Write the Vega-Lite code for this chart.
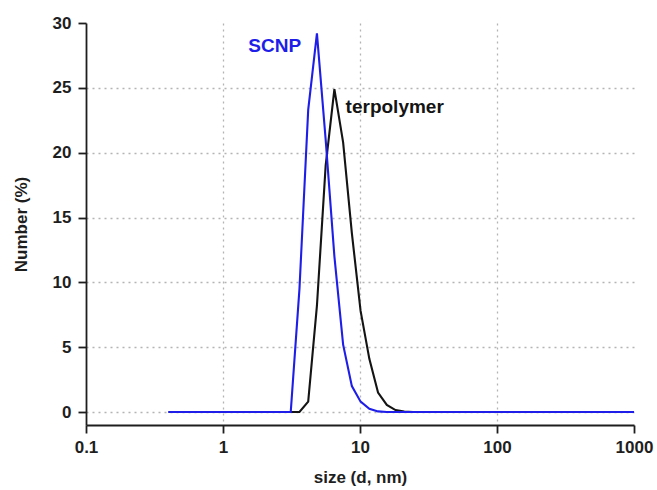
{
  "$schema": "https://vega.github.io/schema/vega-lite/v6.json",
  "width": 548,
  "height": 402,
  "autosize": {"type": "none"},
  "padding": {"left": 86, "top": 23, "right": 23, "bottom": 65},
  "background": "white",
  "config": {
    "view": {"stroke": null},
    "font": "Liberation Sans",
    "axis": {
      "labelFont": "Liberation Sans",
      "labelFontWeight": "bold",
      "labelFontSize": 17,
      "labelColor": "#1e1e1e",
      "titleFont": "Liberation Sans",
      "titleFontWeight": "bold",
      "titleFontSize": 17,
      "titleColor": "#1e1e1e",
      "domainColor": "#1e1e1e",
      "domainWidth": 1.8,
      "tickColor": "#1e1e1e",
      "tickWidth": 1.8,
      "tickSize": 8,
      "gridColor": "#b4b4b4",
      "gridDash": [2, 4],
      "gridWidth": 1.3
    }
  },
  "datasets": {
    "dls": [
      {"s": 0.4, "v": 0, "series": "terpolymer"},
      {"s": 0.4632, "v": 0, "series": "terpolymer"},
      {"s": 0.5365, "v": 0, "series": "terpolymer"},
      {"s": 0.6213, "v": 0, "series": "terpolymer"},
      {"s": 0.7195, "v": 0, "series": "terpolymer"},
      {"s": 0.8332, "v": 0, "series": "terpolymer"},
      {"s": 0.9649, "v": 0, "series": "terpolymer"},
      {"s": 1.117, "v": 0, "series": "terpolymer"},
      {"s": 1.294, "v": 0, "series": "terpolymer"},
      {"s": 1.499, "v": 0, "series": "terpolymer"},
      {"s": 1.736, "v": 0, "series": "terpolymer"},
      {"s": 2.010, "v": 0, "series": "terpolymer"},
      {"s": 2.328, "v": 0, "series": "terpolymer"},
      {"s": 2.696, "v": 0, "series": "terpolymer"},
      {"s": 3.122, "v": 0, "series": "terpolymer"},
      {"s": 3.615, "v": 0, "series": "terpolymer"},
      {"s": 4.187, "v": 0.8, "series": "terpolymer"},
      {"s": 4.849, "v": 8.2, "series": "terpolymer"},
      {"s": 5.615, "v": 19.0, "series": "terpolymer"},
      {"s": 6.503, "v": 24.9, "series": "terpolymer"},
      {"s": 7.531, "v": 20.8, "series": "terpolymer"},
      {"s": 8.721, "v": 13.8, "series": "terpolymer"},
      {"s": 10.10, "v": 7.8, "series": "terpolymer"},
      {"s": 11.70, "v": 4.1, "series": "terpolymer"},
      {"s": 13.54, "v": 1.5, "series": "terpolymer"},
      {"s": 15.69, "v": 0.55, "series": "terpolymer"},
      {"s": 18.17, "v": 0.15, "series": "terpolymer"},
      {"s": 21.04, "v": 0.03, "series": "terpolymer"},
      {"s": 24.36, "v": 0, "series": "terpolymer"},
      {"s": 28.21, "v": 0, "series": "terpolymer"},
      {"s": 32.67, "v": 0, "series": "terpolymer"},
      {"s": 37.84, "v": 0, "series": "terpolymer"},
      {"s": 43.82, "v": 0, "series": "terpolymer"},
      {"s": 50.75, "v": 0, "series": "terpolymer"},
      {"s": 58.77, "v": 0, "series": "terpolymer"},
      {"s": 68.06, "v": 0, "series": "terpolymer"},
      {"s": 78.82, "v": 0, "series": "terpolymer"},
      {"s": 91.28, "v": 0, "series": "terpolymer"},
      {"s": 105.7, "v": 0, "series": "terpolymer"},
      {"s": 122.4, "v": 0, "series": "terpolymer"},
      {"s": 141.8, "v": 0, "series": "terpolymer"},
      {"s": 164.2, "v": 0, "series": "terpolymer"},
      {"s": 190.1, "v": 0, "series": "terpolymer"},
      {"s": 220.2, "v": 0, "series": "terpolymer"},
      {"s": 255.0, "v": 0, "series": "terpolymer"},
      {"s": 295.3, "v": 0, "series": "terpolymer"},
      {"s": 342.0, "v": 0, "series": "terpolymer"},
      {"s": 396.1, "v": 0, "series": "terpolymer"},
      {"s": 458.7, "v": 0, "series": "terpolymer"},
      {"s": 531.2, "v": 0, "series": "terpolymer"},
      {"s": 615.1, "v": 0, "series": "terpolymer"},
      {"s": 712.4, "v": 0, "series": "terpolymer"},
      {"s": 825.0, "v": 0, "series": "terpolymer"},
      {"s": 955.4, "v": 0, "series": "terpolymer"},
      {"s": 1106, "v": 0, "series": "terpolymer"},
      {"s": 0.4, "v": 0, "series": "SCNP"},
      {"s": 0.4632, "v": 0, "series": "SCNP"},
      {"s": 0.5365, "v": 0, "series": "SCNP"},
      {"s": 0.6213, "v": 0, "series": "SCNP"},
      {"s": 0.7195, "v": 0, "series": "SCNP"},
      {"s": 0.8332, "v": 0, "series": "SCNP"},
      {"s": 0.9649, "v": 0, "series": "SCNP"},
      {"s": 1.117, "v": 0, "series": "SCNP"},
      {"s": 1.294, "v": 0, "series": "SCNP"},
      {"s": 1.499, "v": 0, "series": "SCNP"},
      {"s": 1.736, "v": 0, "series": "SCNP"},
      {"s": 2.010, "v": 0, "series": "SCNP"},
      {"s": 2.328, "v": 0, "series": "SCNP"},
      {"s": 2.696, "v": 0, "series": "SCNP"},
      {"s": 3.122, "v": 0, "series": "SCNP"},
      {"s": 3.615, "v": 9.5, "series": "SCNP"},
      {"s": 4.187, "v": 23.3, "series": "SCNP"},
      {"s": 4.849, "v": 29.2, "series": "SCNP"},
      {"s": 5.615, "v": 21.0, "series": "SCNP"},
      {"s": 6.503, "v": 12.0, "series": "SCNP"},
      {"s": 7.531, "v": 5.2, "series": "SCNP"},
      {"s": 8.721, "v": 2.0, "series": "SCNP"},
      {"s": 10.10, "v": 0.8, "series": "SCNP"},
      {"s": 11.70, "v": 0.25, "series": "SCNP"},
      {"s": 13.54, "v": 0.05, "series": "SCNP"},
      {"s": 15.69, "v": 0, "series": "SCNP"},
      {"s": 18.17, "v": 0, "series": "SCNP"},
      {"s": 21.04, "v": 0, "series": "SCNP"},
      {"s": 24.36, "v": 0, "series": "SCNP"},
      {"s": 28.21, "v": 0, "series": "SCNP"},
      {"s": 32.67, "v": 0, "series": "SCNP"},
      {"s": 37.84, "v": 0, "series": "SCNP"},
      {"s": 43.82, "v": 0, "series": "SCNP"},
      {"s": 50.75, "v": 0, "series": "SCNP"},
      {"s": 58.77, "v": 0, "series": "SCNP"},
      {"s": 68.06, "v": 0, "series": "SCNP"},
      {"s": 78.82, "v": 0, "series": "SCNP"},
      {"s": 91.28, "v": 0, "series": "SCNP"},
      {"s": 105.7, "v": 0, "series": "SCNP"},
      {"s": 122.4, "v": 0, "series": "SCNP"},
      {"s": 141.8, "v": 0, "series": "SCNP"},
      {"s": 164.2, "v": 0, "series": "SCNP"},
      {"s": 190.1, "v": 0, "series": "SCNP"},
      {"s": 220.2, "v": 0, "series": "SCNP"},
      {"s": 255.0, "v": 0, "series": "SCNP"},
      {"s": 295.3, "v": 0, "series": "SCNP"},
      {"s": 342.0, "v": 0, "series": "SCNP"},
      {"s": 396.1, "v": 0, "series": "SCNP"},
      {"s": 458.7, "v": 0, "series": "SCNP"},
      {"s": 531.2, "v": 0, "series": "SCNP"},
      {"s": 615.1, "v": 0, "series": "SCNP"},
      {"s": 712.4, "v": 0, "series": "SCNP"},
      {"s": 825.0, "v": 0, "series": "SCNP"},
      {"s": 955.4, "v": 0, "series": "SCNP"},
      {"s": 1106, "v": 0, "series": "SCNP"}
    ],
    "labels": [
      {"s": 1.53, "v": 28.2, "label": "SCNP", "series": "SCNP"},
      {"s": 7.85, "v": 23.5, "label": "terpolymer", "series": "terpolymer"}
    ]
  },
  "layer": [
    {
      "data": {"name": "dls"},
      "transform": [{"filter": "datum.series == 'terpolymer'"}],
      "mark": {"type": "line", "strokeWidth": 2.1, "clip": true},
      "encoding": {
        "x": {
          "field": "s", "type": "quantitative",
          "scale": {"type": "log", "domain": [0.1, 1000], "nice": false},
          "axis": {
            "title": "size (d, nm)",
            "values": [0.1, 1, 10, 100, 1000],
            "format": "~g",
            "labelFlush": false,
            "labelPadding": 6,
            "titlePadding": 14,
            "gridOpacity": {"condition": {"test": "datum.value < 0.5 || datum.value > 500", "value": 0}, "value": 1},
            "grid": true
          }
        },
        "y": {
          "field": "v", "type": "quantitative",
          "scale": {"domain": [-1, 30], "nice": false, "zero": false},
          "axis": {
            "title": "Number (%)",
            "values": [0, 5, 10, 15, 20, 25, 30],
            "labelFlush": false,
            "labelPadding": 7,
            "titlePadding": 22,
            "gridOpacity": {"condition": {"test": "datum.value > 29", "value": 0}, "value": 1},
            "grid": true
          }
        },
        "color": {
          "field": "series", "type": "nominal",
          "scale": {"domain": ["terpolymer", "SCNP"], "range": ["#141414", "#1e1ee8"]},
          "legend": null
        }
      }
    },
    {
      "data": {"name": "dls"},
      "transform": [{"filter": "datum.series == 'SCNP'"}],
      "mark": {"type": "line", "strokeWidth": 2.1, "clip": true},
      "encoding": {
        "x": {"field": "s", "type": "quantitative"},
        "y": {"field": "v", "type": "quantitative"},
        "color": {"field": "series", "type": "nominal"}
      }
    },
    {
      "data": {"name": "labels"},
      "mark": {"type": "text", "fontWeight": "bold", "fontSize": 19, "align": "left", "baseline": "middle", "font": "Liberation Sans"},
      "encoding": {
        "x": {"field": "s", "type": "quantitative"},
        "y": {"field": "v", "type": "quantitative"},
        "text": {"field": "label"},
        "color": {"field": "series", "type": "nominal"}
      }
    }
  ]
}
